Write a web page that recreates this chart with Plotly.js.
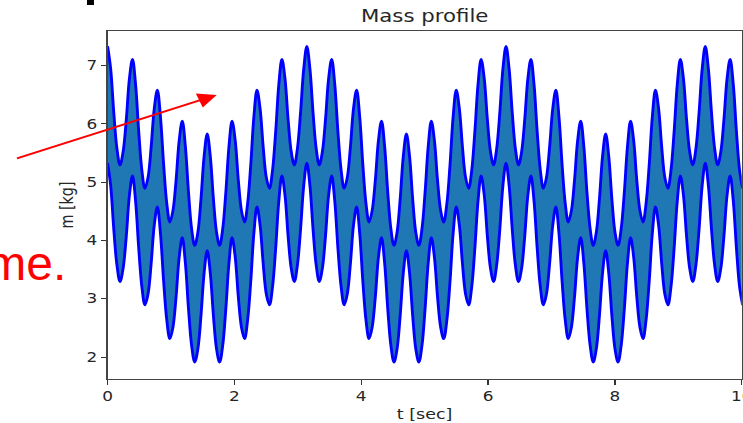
<!DOCTYPE html>
<html><head><meta charset="utf-8">
<script src="https://cdn.plot.ly/plotly-3.0.1.min.js"></script>
<style>
html,body{margin:0;padding:0;background:#fff;overflow:hidden}
#wrap{width:743px;height:423px;overflow:hidden;position:relative}
#plot{width:594px;height:423px;transform:scaleX(1.25084);transform-origin:0 0}
</style></head><body><div id="wrap"><div id="plot"></div></div>
<script>
// time samples [sec]
const t = [
0.000,0.049,0.098,0.147,0.196,0.245,0.295,0.344,0.393,0.442,0.491,0.540,0.589,0.638,0.687,0.736,
0.785,0.834,0.884,0.933,0.982,1.031,1.080,1.129,1.178,1.227,1.276,1.325,1.374,1.424,1.473,1.522,
1.571,1.620,1.669,1.718,1.767,1.816,1.865,1.914,1.963,2.013,2.062,2.111,2.160,2.209,2.258,2.307,
2.356,2.405,2.454,2.503,2.553,2.602,2.651,2.700,2.749,2.798,2.847,2.896,2.945,2.994,3.043,3.093,
3.142,3.191,3.240,3.289,3.338,3.387,3.436,3.485,3.534,3.583,3.632,3.682,3.731,3.780,3.829,3.878,
3.927,3.976,4.025,4.074,4.123,4.172,4.222,4.271,4.320,4.369,4.418,4.467,4.516,4.565,4.614,4.663,
4.712,4.762,4.811,4.860,4.909,4.958,5.007,5.056,5.105,5.154,5.203,5.252,5.301,5.351,5.400,5.449,
5.498,5.547,5.596,5.645,5.694,5.743,5.792,5.841,5.890,5.940,5.989,6.038,6.087,6.136,6.185,6.234,
6.283,6.332,6.381,6.430,6.480,6.529,6.578,6.627,6.676,6.725,6.774,6.823,6.872,6.921,6.970,7.020,
7.069,7.118,7.167,7.216,7.265,7.314,7.363,7.412,7.461,7.510,7.559,7.609,7.658,7.707,7.756,7.805,
7.854,7.903,7.952,8.001,8.050,8.099,8.149,8.198,8.247,8.296,8.345,8.394,8.443,8.492,8.541,8.590,
8.639,8.689,8.738,8.787,8.836,8.885,8.934,8.983,9.032,9.081,9.130,9.179,9.228,9.278,9.327,9.376,
9.425,9.474,9.523,9.572,9.621,9.670,9.719,9.768,9.817,9.867,9.916,9.965,10.014
];
// upper mass curve [kg]
const mUpper = [
7.33,6.94,6.19,5.58,5.29,5.52,6.07,6.77,7.11,6.67,5.87,5.21,4.89,5.08,5.60,6.26,
6.58,6.12,5.30,4.64,4.31,4.51,5.03,5.71,6.05,5.61,4.83,4.20,3.91,4.14,4.71,5.44,
5.83,5.44,4.71,4.14,3.91,4.20,4.83,5.61,6.05,5.71,5.03,4.51,4.31,4.64,5.30,6.12,
6.58,6.26,5.60,5.08,4.89,5.21,5.87,6.67,7.11,6.77,6.07,5.52,5.29,5.58,6.19,6.94,
7.33,6.94,6.19,5.58,5.29,5.52,6.07,6.77,7.11,6.67,5.87,5.21,4.89,5.08,5.60,6.26,
6.58,6.12,5.30,4.64,4.31,4.51,5.03,5.71,6.05,5.61,4.83,4.20,3.91,4.14,4.71,5.44,
5.83,5.44,4.71,4.14,3.91,4.20,4.83,5.61,6.05,5.71,5.03,4.51,4.31,4.64,5.30,6.12,
6.58,6.26,5.60,5.08,4.89,5.21,5.87,6.67,7.11,6.77,6.07,5.52,5.29,5.58,6.19,6.94,
7.33,6.94,6.19,5.58,5.29,5.52,6.07,6.77,7.11,6.67,5.87,5.21,4.89,5.08,5.60,6.26,
6.58,6.12,5.30,4.64,4.31,4.51,5.03,5.71,6.05,5.61,4.83,4.20,3.91,4.14,4.71,5.44,
5.83,5.44,4.71,4.14,3.91,4.20,4.83,5.61,6.05,5.71,5.03,4.51,4.31,4.64,5.30,6.12,
6.58,6.26,5.60,5.08,4.89,5.21,5.87,6.67,7.11,6.77,6.07,5.52,5.29,5.58,6.19,6.94,
7.33,6.94,6.19,5.58,5.29,5.52,6.07,6.77,7.11,6.67,5.87,5.21,4.89
];
// lower mass curve [kg]
const mLower = [
5.33,4.94,4.19,3.58,3.29,3.52,4.07,4.77,5.11,4.67,3.87,3.21,2.89,3.08,3.60,4.26,
4.58,4.12,3.30,2.64,2.31,2.51,3.03,3.71,4.05,3.61,2.83,2.20,1.91,2.14,2.71,3.44,
3.83,3.44,2.71,2.14,1.91,2.20,2.83,3.61,4.05,3.71,3.03,2.51,2.31,2.64,3.30,4.12,
4.58,4.26,3.60,3.08,2.89,3.21,3.87,4.67,5.11,4.77,4.07,3.52,3.29,3.58,4.19,4.94,
5.33,4.94,4.19,3.58,3.29,3.52,4.07,4.77,5.11,4.67,3.87,3.21,2.89,3.08,3.60,4.26,
4.58,4.12,3.30,2.64,2.31,2.51,3.03,3.71,4.05,3.61,2.83,2.20,1.91,2.14,2.71,3.44,
3.83,3.44,2.71,2.14,1.91,2.20,2.83,3.61,4.05,3.71,3.03,2.51,2.31,2.64,3.30,4.12,
4.58,4.26,3.60,3.08,2.89,3.21,3.87,4.67,5.11,4.77,4.07,3.52,3.29,3.58,4.19,4.94,
5.33,4.94,4.19,3.58,3.29,3.52,4.07,4.77,5.11,4.67,3.87,3.21,2.89,3.08,3.60,4.26,
4.58,4.12,3.30,2.64,2.31,2.51,3.03,3.71,4.05,3.61,2.83,2.20,1.91,2.14,2.71,3.44,
3.83,3.44,2.71,2.14,1.91,2.20,2.83,3.61,4.05,3.71,3.03,2.51,2.31,2.64,3.30,4.12,
4.58,4.26,3.60,3.08,2.89,3.21,3.87,4.67,5.11,4.77,4.07,3.52,3.29,3.58,4.19,4.94,
5.33,4.94,4.19,3.58,3.29,3.52,4.07,4.77,5.11,4.67,3.87,3.21,2.89
];
const xTicks = [0, 2, 4, 6, 8, 10];
const yTicks = [2, 3, 4, 5, 6, 7];
const chartTitle = 'Mass profile';
const xLabel = 't [sec]';
const yLabel = 'm [kg]';
const noteText = 'me.';

const S = 1.25084; // horizontal stretch of the embedded chart
const fillColor = '#1f77b4';
const lineColor = '#0000ff';

const traces = [
  {x: t, y: mLower, mode: 'lines', line: {width: 0, shape: 'spline', color: fillColor}, hoverinfo: 'skip', showlegend: false},
  {x: t, y: mUpper, mode: 'lines', fill: 'tonexty', fillcolor: fillColor, line: {width: 0, shape: 'spline', color: fillColor}, hoverinfo: 'skip', showlegend: false},
  {x: t, y: mLower, mode: 'lines', line: {width: 2.3, shape: 'spline', color: lineColor}, showlegend: false},
  {x: t, y: mUpper, mode: 'lines', line: {width: 2.3, shape: 'spline', color: lineColor}, showlegend: false}
];

const axisCommon = {
  ticks: 'outside', tickwidth: 1, tickcolor: '#333',
  showline: true, linecolor: '#444', linewidth: 1, mirror: true,
  showgrid: false, zeroline: false, ticklabeloverflow: 'allow',
  tickfont: {family: 'DejaVu Sans', size: 13.5, color: '#262626'}
};

const layout = {
  width: 594, height: 423,
  margin: {l: 86, r: 1, t: 31, b: 44, pad: 0},
  paper_bgcolor: '#ffffff', plot_bgcolor: '#ffffff',
  showlegend: false,
  font: {family: 'DejaVu Sans', color: '#262626', size: 13.5},
  title: {text: chartTitle, font: {family: 'DejaVu Sans', size: 17, color: '#262626'},
          x: 0.5, xref: 'paper', xanchor: 'center', y: 0.962, yref: 'container', yanchor: 'middle'},
  xaxis: Object.assign({}, axisCommon, {
    range: [0, 10], tickmode: 'array', tickvals: xTicks, ticktext: xTicks.map(String), ticklen: 5,
    title: {text: xLabel, font: {family: 'DejaVu Sans', size: 14, color: '#262626'}, standoff: 6}
  }),
  yaxis: Object.assign({}, axisCommon, {
    range: [1.623, 7.591], tickmode: 'array', tickvals: yTicks, ticktext: yTicks.map(String), ticklen: 4.5,
    title: {text: yLabel, font: {family: 'DejaVu Sans', size: 14.3, color: '#262626'}, standoff: 6}
  }),
  annotations: [
    {xref: 'paper', yref: 'paper', x: 0.1721, y: 0.8161, ax: -161.2, ay: 64, axref: 'pixel', ayref: 'pixel',
     text: '', showarrow: true, arrowcolor: '#ff0000', arrowwidth: 2, arrowhead: 2, arrowsize: 1.5, standoff: 0, startstandoff: 0},
    {xref: 'paper', yref: 'paper', x: -0.0613, y: 0.3333, xanchor: 'right', yanchor: 'middle',
     text: noteText, showarrow: false,
     font: {family: 'Liberation Sans, Arial', size: 48, color: '#ff0000'}}
  ],
  shapes: [
    {type: 'rect', xref: 'paper', yref: 'paper', x0: -0.0324, x1: -0.0214, y0: 1.0747, y1: 1.095,
     fillcolor: '#000000', line: {width: 0}, layer: 'above'}
  ]
};

Plotly.newPlot('plot', traces, layout, {staticPlot: true, displayModeBar: false}).then(function (gd) {
  // the slide text is not stretched: undo the horizontal stretch for it, keeping its right edge fixed
  gd.querySelectorAll('text.annotation-text').forEach(function (el) {
    if (el.textContent === noteText) {
      const bb = el.getBBox();
      const r = bb.x + bb.width;
      el.setAttribute('transform', 'translate(' + r + ',0) scale(' + (1 / S) + ',1) translate(' + (-r) + ',0)');
    }
  });
});
</script></body></html>
